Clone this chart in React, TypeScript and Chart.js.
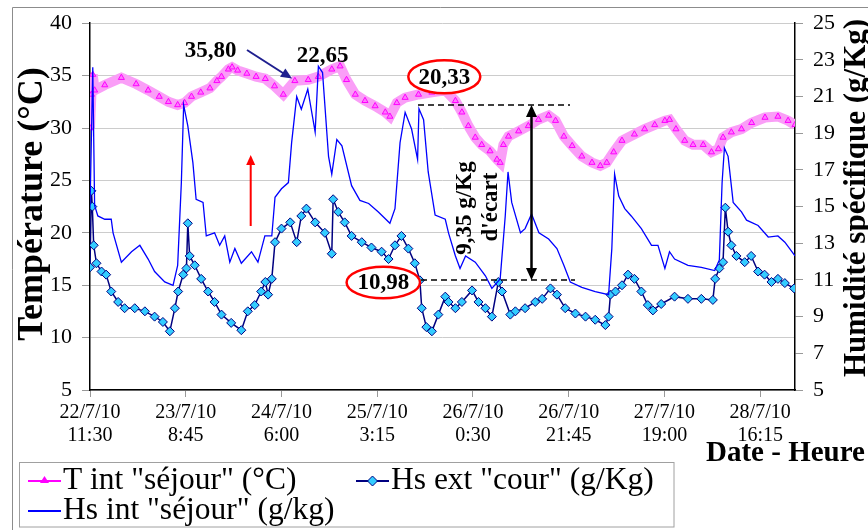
import React, { useEffect, useRef } from 'react';
import { Chart, registerables } from 'chart.js';
Chart.register(...registerables);

// x values are hours elapsed since 22/7/10 11:30
const X_MAX = 152.8;
const TICK_HOURS = [0, 20.75, 41.5, 62.25, 83, 103.75, 124.5, 145.25];
const TICK_LABELS = [
  ['22/7/10', '11:30'], ['23/7/10', '8:45'], ['24/7/10', '6:00'], ['25/7/10', '3:15'],
  ['26/7/10', '0:30'], ['26/7/10', '21:45'], ['27/7/10', '19:00'], ['28/7/10', '16:15'],
];

const T_HOURS = [0, 0.3, 0.6, 1.0, 3.2, 6.8, 10.0, 12.6, 15.0, 17.0, 19.0, 20.5, 22.0, 24.0, 26.0, 27.5, 28.5, 30.0, 30.8, 32.0, 34.0, 36.0, 38.0, 40.0, 41.9, 44.4, 47.3, 49.5, 52.4, 54.2, 55.6, 57.5, 59.6, 61.8, 64.0, 65.0, 66.5, 68.3, 71.2, 74.1, 77.0, 79.2, 80.6, 82.0, 83.5, 84.9, 86.7, 88.2, 88.9, 89.6, 90.7, 92.9, 95.0, 97.2, 99.4, 100.9, 102.7, 104.5, 106.6, 108.8, 110.6, 112.0, 113.5, 115.3, 118.0, 120.2, 122.4, 124.6, 125.6, 127.0, 128.9, 130.7, 132.9, 134.7, 136.2, 137.2, 139.0, 141.2, 143.4, 146.3, 149.1, 151.3, 152.8];
const T_VALUES = [30.0, 33.2, 35.1, 33.6, 34.1, 34.8, 34.2, 33.6, 33.0, 32.5, 32.2, 32.4, 33.0, 33.4, 33.8, 34.5, 34.9, 35.6, 35.8, 35.5, 35.2, 34.9, 34.7, 34.0, 33.2, 34.5, 34.6, 34.9, 35.6, 35.9, 34.6, 33.2, 32.6, 32.1, 31.5, 31.1, 32.4, 32.9, 33.2, 33.4, 33.6, 32.6, 31.5, 30.2, 29.1, 28.4, 27.8, 27.0, 26.7, 28.4, 29.2, 29.7, 30.2, 30.8, 31.2, 30.7, 29.2, 28.3, 27.3, 26.7, 26.4, 26.7, 27.7, 28.8, 29.4, 29.9, 30.3, 30.7, 30.8, 29.9, 28.8, 28.4, 28.4, 27.7, 28.0, 29.1, 29.6, 29.9, 30.5, 31.0, 31.1, 30.7, 30.3];

const HSEXT_HOURS = [0, 0.3, 0.5, 0.8, 1.4, 2.5, 3.5, 4.6, 6.1, 7.5, 9.7, 11.9, 14.0, 15.8, 17.3, 18.4, 19.1, 20.2, 20.9, 21.2, 21.6, 22.7, 24.1, 25.6, 27.0, 28.5, 30.6, 32.8, 34.2, 35.7, 37.1, 38.0, 38.6, 39.4, 40.1, 41.5, 43.4, 44.8, 45.8, 46.9, 48.8, 50.9, 52.4, 52.7, 53.8, 55.2, 56.7, 58.9, 61.0, 63.2, 64.7, 66.1, 67.5, 69.0, 70.4, 71.5, 71.9, 72.9, 74.1, 75.5, 77.0, 77.7, 79.2, 80.6, 82.8, 84.2, 85.7, 87.1, 88.5, 89.3, 91.1, 92.2, 94.3, 96.5, 98.0, 99.8, 101.2, 103.0, 105.2, 107.4, 109.5, 111.7, 112.4, 112.8, 113.9, 115.3, 116.6, 118.0, 119.5, 120.9, 122.0, 123.8, 126.7, 129.6, 132.5, 135.0, 135.5, 136.4, 137.2, 137.7, 138.3, 139.0, 140.1, 141.9, 143.3, 144.8, 146.2, 147.7, 149.1, 150.6, 152.6];
const HSEXT_VALUES = [11.69, 15.86, 15.0, 12.89, 11.91, 11.46, 11.29, 10.37, 9.8, 9.46, 9.46, 9.29, 9.0, 8.71, 8.2, 9.46, 10.37, 11.29, 11.63, 14.09, 12.31, 11.8, 11.06, 10.37, 9.8, 9.11, 8.66, 8.26, 9.29, 9.63, 10.37, 10.89, 10.2, 11.06, 13.06, 13.8, 14.14, 13.06, 14.49, 14.89, 14.14, 13.57, 12.43, 15.4, 14.71, 14.14, 13.4, 13.06, 12.77, 12.54, 12.14, 12.89, 13.4, 12.71, 11.91, 10.98, 9.46, 8.43, 8.2, 9.11, 10.09, 9.8, 9.46, 9.8, 10.43, 9.8, 9.46, 9.0, 10.89, 10.37, 9.11, 9.29, 9.46, 9.8, 9.97, 10.54, 10.2, 9.46, 9.17, 9.0, 8.83, 8.54, 9.0, 10.2, 10.37, 10.71, 11.29, 11.06, 10.37, 9.63, 9.34, 9.69, 10.09, 9.97, 9.97, 9.91, 11.06, 11.63, 11.97, 14.94, 13.63, 12.89, 12.31, 11.97, 12.31, 11.46, 11.29, 10.89, 11.06, 10.83, 10.54];

const HSINT_HOURS = [0, 0.6, 1.0, 1.7, 3.2, 4.6, 5.0, 6.8, 9.0, 10.8, 12.6, 14.0, 16.2, 18.0, 19.0, 19.8, 20.3, 21.2, 22.3, 23.0, 24.5, 25.2, 27.0, 28.1, 29.2, 30.3, 31.4, 32.8, 35.0, 36.4, 37.9, 39.4, 40.1, 41.5, 43.0, 43.7, 44.8, 45.8, 47.2, 48.8, 49.5, 50.4, 51.7, 52.4, 53.5, 54.6, 56.7, 58.5, 60.4, 62.5, 65.0, 66.1, 67.2, 68.3, 69.7, 71.0, 71.3, 72.3, 73.3, 74.8, 77.0, 77.7, 79.2, 80.2, 81.4, 83.5, 85.7, 87.1, 88.9, 90.0, 90.6, 91.4, 93.3, 94.3, 95.7, 97.3, 99.4, 101.2, 102.7, 104.1, 106.6, 109.5, 112.4, 113.1, 113.7, 114.6, 115.9, 117.3, 119.5, 121.7, 123.1, 124.6, 125.6, 126.7, 129.6, 132.5, 135.4, 136.4, 137.0, 137.5, 138.3, 139.4, 141.2, 142.3, 144.8, 147.0, 149.1, 150.6, 152.8];
const HSINT_VALUES = [14.89, 22.6, 15.06, 14.49, 14.31, 14.31, 13.57, 11.97, 12.54, 12.89, 12.14, 11.46, 10.89, 10.71, 11.8, 16.31, 20.54, 19.4, 17.4, 15.4, 15.23, 13.4, 13.57, 12.89, 13.4, 11.97, 12.71, 11.91, 12.54, 11.97, 13.4, 13.4, 15.51, 15.97, 16.31, 18.49, 21.0, 20.31, 21.4, 19.06, 22.65, 22.31, 17.74, 16.77, 18.66, 18.31, 16.14, 15.34, 15.17, 14.71, 14.09, 14.89, 18.49, 20.14, 19.23, 17.57, 20.33, 19.74, 16.89, 14.54, 14.31, 13.57, 12.31, 11.63, 12.31, 11.97, 11.23, 10.54, 11.06, 14.49, 16.89, 15.23, 13.57, 13.8, 14.6, 13.57, 13.23, 12.71, 11.8, 10.89, 10.6, 10.37, 10.2, 12.71, 16.77, 15.57, 14.89, 14.49, 13.8, 12.89, 12.89, 11.63, 12.54, 12.14, 11.8, 11.69, 11.51, 12.09, 16.31, 18.2, 17.74, 15.23, 14.71, 14.26, 13.97, 13.34, 13.4, 13.06, 12.31];

const SERIES_NAMES = ['T int "séjour" (°C)', 'Hs ext "cour" (g/Kg)', 'Hs int "séjour" (g/kg)'];

const SERIF = '"Liberation Serif", "Times New Roman", serif';

function pairs(xs: number[], ys: number[]) {
  return xs.map((x, i) => ({ x, y: ys[i] }));
}

function arrowHead(ctx: CanvasRenderingContext2D, x1: number, y1: number, x2: number, y2: number, len: number, half: number) {
  const a = Math.atan2(y2 - y1, x2 - x1);
  ctx.beginPath();
  ctx.moveTo(x2, y2);
  ctx.lineTo(x2 - len * Math.cos(a) + half * Math.sin(a), y2 - len * Math.sin(a) - half * Math.cos(a));
  ctx.lineTo(x2 - len * Math.cos(a) - half * Math.sin(a), y2 - len * Math.sin(a) + half * Math.cos(a));
  ctx.closePath();
  ctx.fill();
}

function ellipseLabel(ctx: CanvasRenderingContext2D, cx: number, cy: number, rx: number, ry: number, text: string) {
  ctx.beginPath();
  ctx.ellipse(cx, cy, rx, ry, 0, 0, Math.PI * 2);
  ctx.fillStyle = '#ffffff';
  ctx.fill();
  ctx.strokeStyle = '#ff0000';
  ctx.lineWidth = 2.5;
  ctx.stroke();
  ctx.fillStyle = '#000000';
  ctx.font = 'bold 23px ' + SERIF;
  ctx.textAlign = 'center';
  ctx.textBaseline = 'middle';
  ctx.fillText(text, cx, cy + 1);
}

const overlayPlugin = {
  id: 'overlay',
  afterDraw(chart: any) {
    const ctx: CanvasRenderingContext2D = chart.ctx;
    ctx.save();
    // outer chart border
    ctx.strokeStyle = '#8c8c8c';
    ctx.lineWidth = 1;
    ctx.beginPath();
    ctx.moveTo(12.5, 540);
    ctx.lineTo(12.5, 7.5);
    ctx.lineTo(870, 7.5);
    ctx.stroke();

    // axis titles
    ctx.fillStyle = '#000';
    ctx.textAlign = 'center';
    ctx.textBaseline = 'middle';
    ctx.save();
    ctx.translate(33, 204);
    ctx.rotate(-Math.PI / 2);
    ctx.font = 'bold 36px ' + SERIF;
    ctx.fillText('Température (°C)', 0, 0);
    ctx.restore();
    ctx.save();
    ctx.translate(857, 198);
    ctx.rotate(-Math.PI / 2);
    ctx.font = 'bold 31px ' + SERIF;
    ctx.fillText('Humidité spécifique (g/Kg)', 0, 0);
    ctx.restore();
    ctx.font = 'bold 29px ' + SERIF;
    ctx.textAlign = 'left';
    ctx.fillText('Date - Heure', 706, 454);

    // annotations
    ctx.font = 'bold 23px ' + SERIF;
    ctx.textAlign = 'center';
    ctx.fillText('35,80', 210.5, 51);
    ctx.fillText('22,65', 322.5, 56);

    ctx.strokeStyle = '#1f1f8f';
    ctx.fillStyle = '#1f1f8f';
    ctx.lineWidth = 2;
    ctx.beginPath();
    ctx.moveTo(247, 50);
    ctx.lineTo(286, 75);
    ctx.stroke();
    arrowHead(ctx, 247, 50, 292, 78.5, 11, 5);

    ctx.strokeStyle = '#ff0000';
    ctx.fillStyle = '#ff0000';
    ctx.lineWidth = 2;
    ctx.beginPath();
    ctx.moveTo(250.7, 226);
    ctx.lineTo(250.7, 163);
    ctx.stroke();
    arrowHead(ctx, 250.7, 226, 250.7, 155, 10, 4.5);

    ctx.strokeStyle = '#000';
    ctx.lineWidth = 1.5;
    ctx.setLineDash([6, 4]);
    ctx.beginPath();
    ctx.moveTo(418, 105);
    ctx.lineTo(570, 105);
    ctx.moveTo(421, 280);
    ctx.lineTo(575, 280);
    ctx.stroke();
    ctx.setLineDash([]);

    ctx.lineWidth = 2.5;
    ctx.fillStyle = '#000';
    ctx.beginPath();
    ctx.moveTo(531.5, 114);
    ctx.lineTo(531.5, 271);
    ctx.stroke();
    arrowHead(ctx, 531.5, 200, 531.5, 105, 12, 5.5);
    arrowHead(ctx, 531.5, 200, 531.5, 280, 12, 5.5);

    ctx.save();
    ctx.font = 'bold 23px ' + SERIF;
    ctx.textAlign = 'center';
    ctx.textBaseline = 'middle';
    ctx.translate(465, 208);
    ctx.rotate(-Math.PI / 2);
    ctx.fillText('9,35 g/Kg', 0, 0);
    ctx.restore();
    ctx.save();
    ctx.font = 'bold 23px ' + SERIF;
    ctx.textAlign = 'center';
    ctx.textBaseline = 'middle';
    ctx.translate(491.5, 207);
    ctx.rotate(-Math.PI / 2);
    ctx.fillText("d'écart", 0, 0);
    ctx.restore();

    ellipseLabel(ctx, 444.3, 76.7, 36, 16.5, '20,33');
    ellipseLabel(ctx, 383.3, 282.5, 36.7, 15.8, '10,98');

    // legend
    ctx.strokeStyle = '#a0a0a0';
    ctx.lineWidth = 1;
    ctx.strokeRect(19.5, 462.5, 654.5, 64.5);
    ctx.font = '31.5px ' + SERIF;
    ctx.textAlign = 'left';
    ctx.textBaseline = 'middle';
    // item 1
    ctx.strokeStyle = '#ff00ff';
    ctx.lineWidth = 2;
    ctx.beginPath(); ctx.moveTo(28, 481); ctx.lineTo(61, 481); ctx.stroke();
    ctx.fillStyle = '#ff00ff';
    ctx.beginPath(); ctx.moveTo(44.5, 476); ctx.lineTo(49, 483); ctx.lineTo(40, 483); ctx.closePath(); ctx.fill();
    ctx.fillStyle = '#000';
    ctx.fillText(SERIES_NAMES[0], 63, 481);
    // item 2
    ctx.strokeStyle = '#000080';
    ctx.beginPath(); ctx.moveTo(356, 481); ctx.lineTo(389, 481); ctx.stroke();
    ctx.fillStyle = '#33ccff';
    ctx.lineWidth = 1;
    ctx.beginPath(); ctx.moveTo(372.5, 476); ctx.lineTo(377.5, 481); ctx.lineTo(372.5, 486); ctx.lineTo(367.5, 481); ctx.closePath(); ctx.fill(); ctx.stroke();
    ctx.fillStyle = '#000';
    ctx.fillText(SERIES_NAMES[1], 391, 481);
    // item 3
    ctx.strokeStyle = '#0000ff';
    ctx.lineWidth = 2;
    ctx.beginPath(); ctx.moveTo(28, 511); ctx.lineTo(61, 511); ctx.stroke();
    ctx.fillText(SERIES_NAMES[2], 63, 511);
    ctx.restore();
  },
};

export default function App() {
  const ref = useRef<HTMLCanvasElement | null>(null);
  useEffect(() => {
    if (!ref.current) return;
    const chart = new Chart(ref.current, {
      type: 'line',
      data: {
        datasets: [
          {
            label: SERIES_NAMES[0],
            data: pairs(T_HOURS, T_VALUES),
            yAxisID: 'y',
            borderColor: '#fa9ef7',
            borderWidth: 10,
            pointStyle: 'triangle',
            pointRadius: 3.5,
            pointBackgroundColor: '#ff77ff',
            pointBorderColor: '#ff00ff',
            pointBorderWidth: 1,
            tension: 0,
            order: 3,
          },
          {
            label: SERIES_NAMES[1],
            data: pairs(HSEXT_HOURS, HSEXT_VALUES),
            yAxisID: 'y1',
            borderColor: '#000080',
            borderWidth: 1.5,
            pointStyle: 'rectRot',
            pointRadius: 4.5,
            pointBackgroundColor: '#33ccff',
            pointBorderColor: '#000080',
            pointBorderWidth: 1,
            tension: 0,
            order: 2,
          },
          {
            label: SERIES_NAMES[2],
            data: pairs(HSINT_HOURS, HSINT_VALUES),
            yAxisID: 'y1',
            borderColor: '#0000ff',
            borderWidth: 1.3,
            pointRadius: 0,
            tension: 0,
            order: 1,
          },
        ],
      },
      options: {
        responsive: false,
        animation: false,
        devicePixelRatio: 1,
        layout: { padding: { top: 21, left: 0, right: 0, bottom: 0 } },
        plugins: { legend: { display: false }, tooltip: { enabled: false } },
        scales: {
          x: {
            type: 'linear',
            min: 0,
            max: X_MAX,
            afterBuildTicks: (scale: any) => {
              scale.ticks = TICK_HOURS.map((v) => ({ value: v }));
            },
            afterFit: (scale: any) => { scale.height = 140; },
            grid: { drawOnChartArea: false, drawTicks: true, tickLength: 7, tickColor: '#999999' },
            border: { display: true, color: '#000000', width: 1.5 },
            ticks: {
              autoSkip: false,
              maxRotation: 0,
              padding: 4,
              color: '#000',
              font: { family: SERIF, size: 20, lineHeight: 1.17 },
              callback: (_v: any, i: number) => TICK_LABELS[i],
            },
          },
          y: {
            position: 'left',
            min: 5,
            max: 40,
            afterFit: (scale: any) => { scale.width = 90; },
            grid: { color: '#cccccc', tickColor: '#999999', tickLength: 8, lineWidth: 1 },
            border: { display: true, color: '#000000', width: 1.5 },
            ticks: { stepSize: 5, padding: 10, color: '#000', font: { family: SERIF, size: 22 } },
          },
          y1: {
            position: 'right',
            min: 5,
            max: 25,
            afterFit: (scale: any) => { scale.width = 73; },
            grid: { drawOnChartArea: false, tickColor: '#999999', tickLength: 8 },
            border: { display: true, color: '#000000', width: 1.5 },
            ticks: { stepSize: 2, padding: 10, color: '#000', font: { family: SERIF, size: 22 } },
          },
        },
      },
      plugins: [overlayPlugin],
    } as any);
    return () => chart.destroy();
  }, []);
  return (
    <div style={{ position: 'fixed', left: 0, top: 0, width: 868, height: 530, background: '#fff' }}>
      <canvas ref={ref} width={868} height={530} style={{ width: 868, height: 530, display: 'block' }} />
    </div>
  );
}
